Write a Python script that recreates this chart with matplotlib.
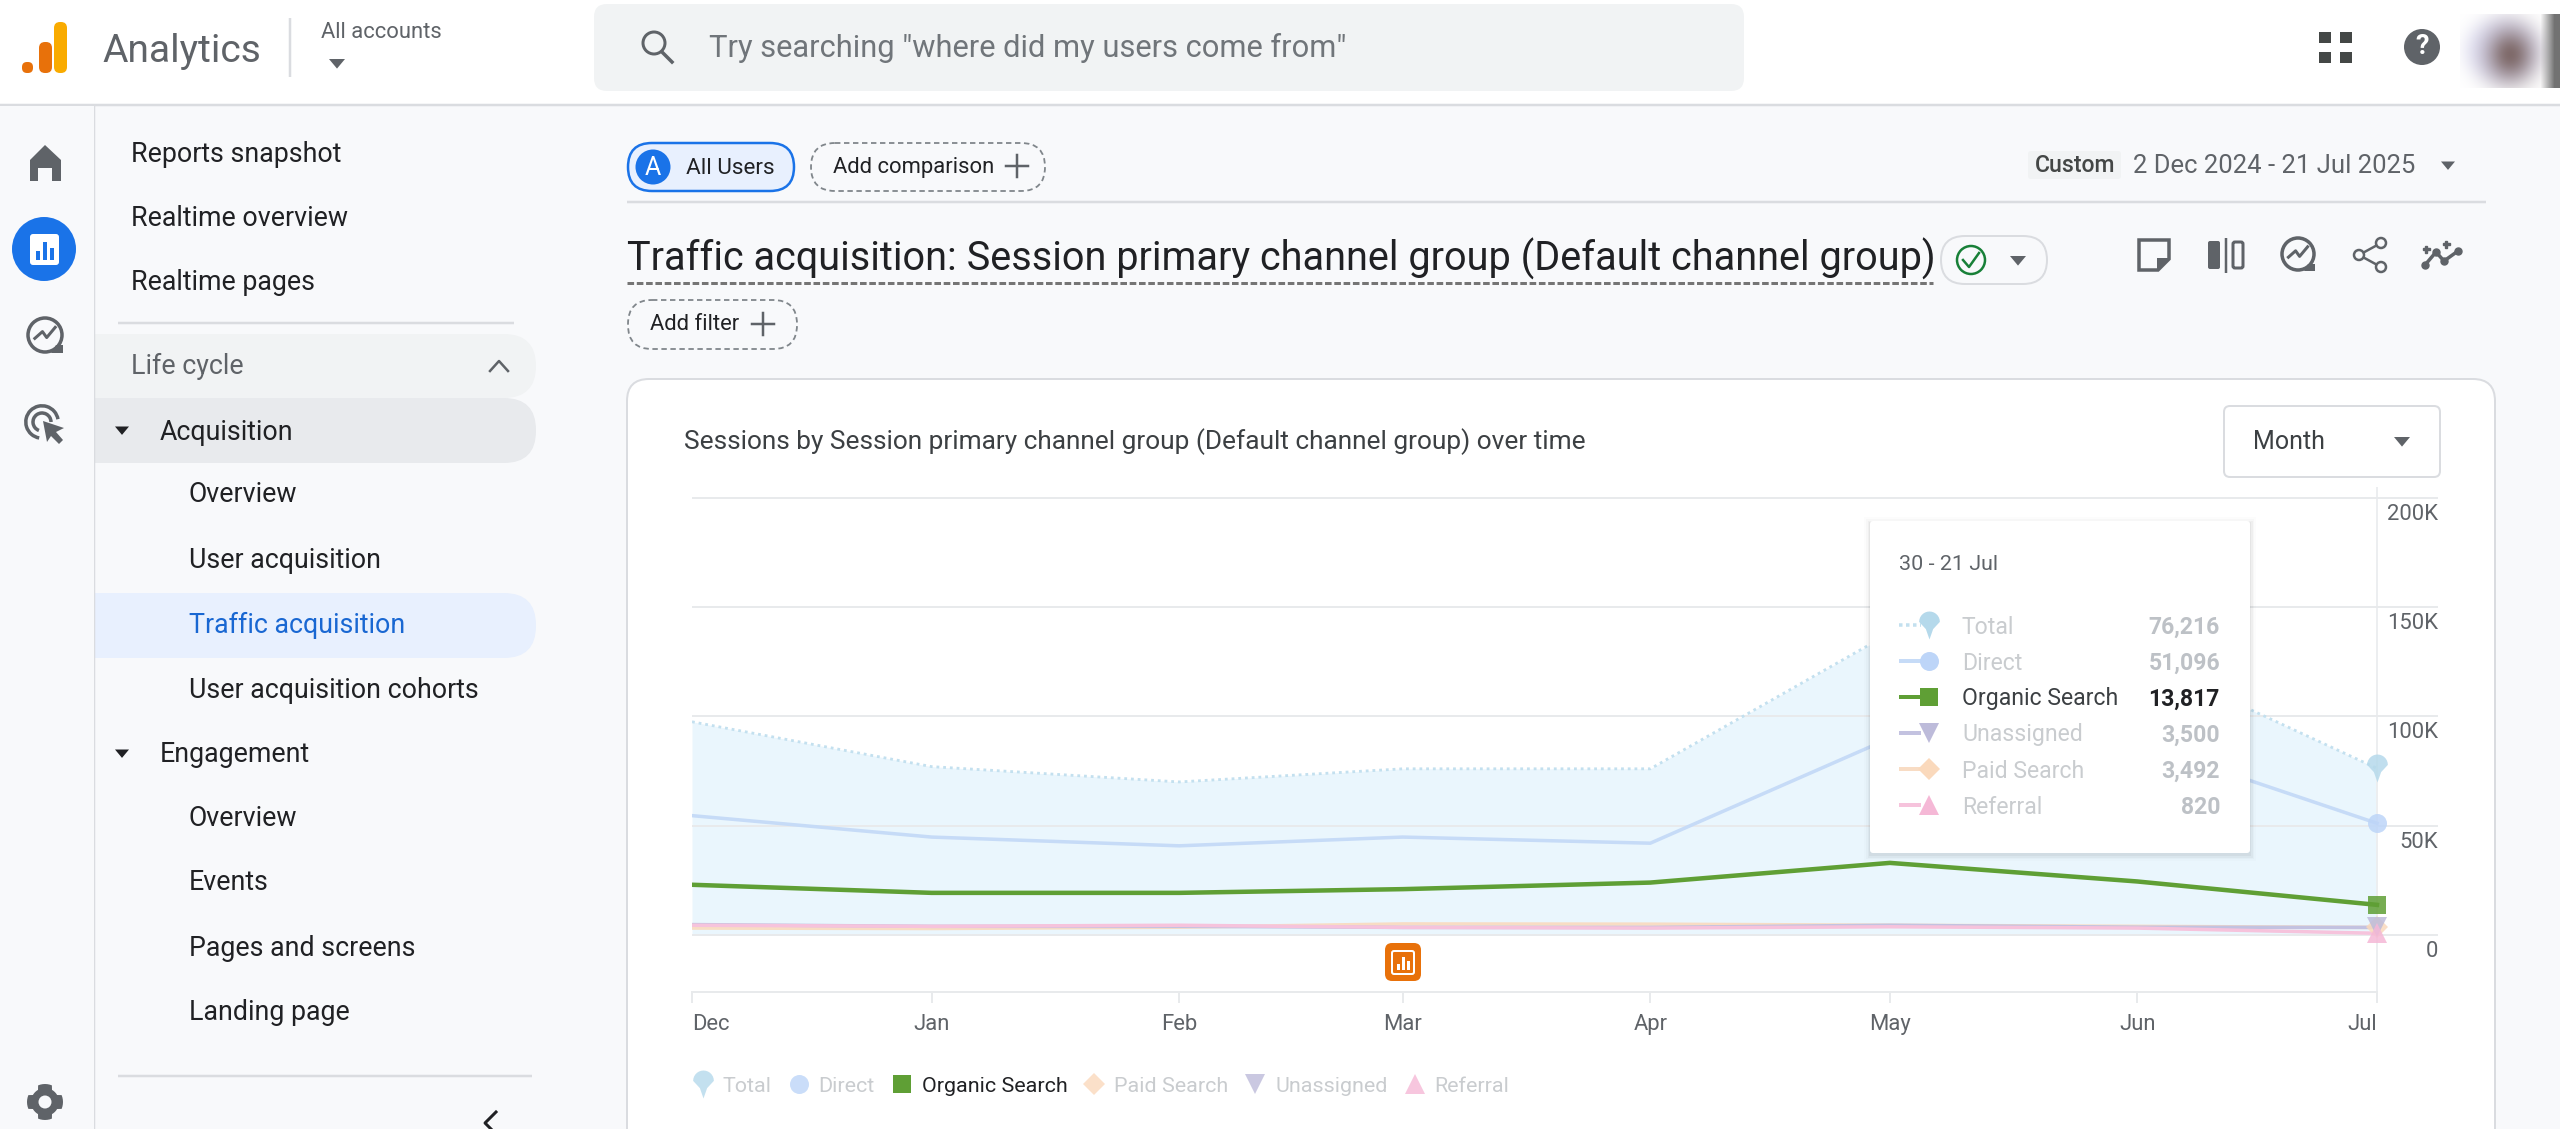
"""
plot.py

Google Analytics traffic acquisition screen: chart plus the page around it.
"""

import numpy as np
import matplotlib
matplotlib.use("Agg")
import matplotlib.pyplot as plt
import matplotlib.dates as mdates
from matplotlib.lines import Line2D
from matplotlib.path import Path
from matplotlib.patches import Arc, Circle, FancyBboxPatch, Polygon, Rectangle
from matplotlib.transforms import ScaledTranslation

plt.rcParams["font.family"] = "Roboto"

# -------- DATA --------
dates = np.array(["2024-12-02", "2025-01-01", "2025-02-01", "2025-03-01",
                  "2025-04-01", "2025-05-01", "2025-06-01", "2025-07-01"],
                 dtype="datetime64[D]")
month_labels = ["Dec", "Jan", "Feb", "Mar", "Apr", "May", "Jun", "Jul"]

total = [97500, 77000, 70000, 76000, 76000, 138000, 127000, 76216]
direct = [54600, 44800, 40800, 44800, 42000, 90000, 88000, 51096]
organic = [23000, 19300, 19300, 21000, 24000, 33000, 24500, 13817]
paid_search = [3200, 3000, 3600, 5100, 5000, 4500, 4000, 3492]
unassigned = [4800, 4000, 4000, 3500, 3500, 4500, 3600, 3500]
referral = [4500, 4000, 4500, 3500, 3200, 3800, 3200, 820]

y_ticks = [0, 50000, 100000, 150000, 200000]
y_labels = ["0", "50K", "100K", "150K", "200K"]

sidebar_top = ["Reports snapshot", "Realtime overview", "Realtime pages"]
acquisition_items = ["Overview", "User acquisition", "Traffic acquisition",
                     "User acquisition cohorts"]
engagement_items = ["Overview", "Events", "Pages and screens", "Landing page"]

# -------- STYLE --------
W, H = 2560, 1129
DPI = 100
PX = 72 / DPI

PAGE = "#F8F9FB"
RULE = "#DADCE0"
INK = "#202124"
GREY = "#5F6368"
FADED = "#C9CCCF"
BLUE = "#1A73E8"

# mushroom shaped marker of the Total series
cap = np.linspace(0, np.pi, 15)
pin = Path(np.vstack([np.c_[np.cos(cap), 0.35 + np.sin(cap)],
                      [(-0.35, -0.35), (0, -1.35), (0.35, -0.35), (1, 0.35)]]), closed=True)

# name, values, line colour, marker, marker colour, marker size in px
series = {
    "Total": (total, "#C3E0EF", pin, "#B5D9EB", 28),
    "Direct": (direct, "#C6DBF7", "o", "#BDD5F8", 19),
    "Organic Search": (organic, "#5F9F35", "s", "#5F9F35", 18),
    "Paid Search": (paid_search, "#F8DCC4", "D", "#FAD9BC", 15),
    "Unassigned": (unassigned, "#C3C2E0", "v", "#BDBBDA", 20),
    "Referral": (referral, "#F6C3DC", "^", "#F5B8D6", 20),
}
tooltip_order = ["Total", "Direct", "Organic Search", "Unassigned", "Paid Search", "Referral"]

fig = plt.figure(figsize=(W / DPI, H / DPI), dpi=DPI, facecolor=PAGE)


def pixel_axes(zorder):
    axes = fig.add_axes([0, 0, 1, 1], zorder=zorder)
    axes.set_xlim(0, W)
    axes.set_ylim(H, 0)
    axes.axis("off")
    return axes


page = pixel_axes(0)


# -------- HELPERS --------
def write(ax, x, y, text, size, color=INK, ha="left", weight="normal", **kwargs):
    return ax.text(x, y + 2, text, fontsize=size * PX, color=color, ha=ha, va="center",
                   fontweight=weight, **kwargs)


def box(ax, x0, y0, x1, y1, radius, fill="none", edge="none", lw=0, ls="-", zorder=2):
    patch = FancyBboxPatch((x0, y0), x1 - x0, y1 - y0,
                           boxstyle=f"round,pad=0,rounding_size={radius}",
                           facecolor=fill, edgecolor=edge, linewidth=lw * PX,
                           linestyle=ls, zorder=zorder)
    ax.add_patch(patch)
    return patch


def rule(x0, y0, x1, y1, color=RULE, lw=2.5):
    page.plot([x0, x1], [y0, y1], color=color, lw=lw * PX, solid_capstyle="butt")


def caret(x, y, size=8, color=GREY):
    page.add_patch(Polygon([(x - size, y - size / 2), (x + size, y - size / 2), (x, y + size * 0.7)],
                           facecolor=color, edgecolor="none", zorder=4))


def plus(x, y, size=11, color=GREY):
    page.plot([x - size, x + size], [y, y], color=color, lw=2.5 * PX)
    page.plot([x, x], [y - size, y + size], color=color, lw=2.5 * PX)


def explore_icon(cx, cy, r=17):
    page.add_patch(Circle((cx, cy), r, facecolor="none", edgecolor=GREY, lw=3.5 * PX, zorder=4))
    page.plot([cx - r * 0.6, cx - r * 0.15, cx + r * 0.1, cx + r * 0.6],
              [cy + r * 0.2, cy - r * 0.2, cy + r * 0.15, cy - r * 0.45],
              color=GREY, lw=3 * PX, zorder=4)
    page.add_patch(Polygon([(cx + r * 0.65, cy + r * 0.6), (cx + r * 1.05, cy + r * 0.6),
                            (cx + r * 1.05, cy + r * 1.05), (cx + r * 0.35, cy + r * 1.05)],
                           facecolor=GREY, edgecolor="none", zorder=4))


# -------- HEADER --------
def draw_header():
    page.add_patch(Rectangle((0, 0), W, 105, facecolor="white", edgecolor="none", zorder=1))
    rule(0, 105, W, 105)
    box(page, 22, 62, 33, 73, 5, fill="#E8710A")
    box(page, 39, 42, 52, 73, 6, fill="#E8710A")
    box(page, 54, 22, 67, 73, 6, fill="#F9AB00")
    write(page, 102, 50, "Analytics", 39, GREY)
    rule(290, 18, 290, 77)
    write(page, 321, 30, "All accounts", 22, GREY)
    caret(337, 63)
    box(page, 594, 4, 1744, 91, 13, fill="#F1F3F4")
    page.add_patch(Circle((654, 43), 11, facecolor="none", edgecolor=GREY, lw=3 * PX, zorder=4))
    page.plot([662, 672], [52, 62], color=GREY, lw=3.5 * PX, zorder=4)
    write(page, 709, 46, 'Try searching "where did my users come from"', 30.9, "#70757A")
    for x0 in (2319, 2340):
        for y0 in (32, 52):
            page.add_patch(Rectangle((x0, y0), 12, 11, facecolor="#444746", edgecolor="none", zorder=4))
    page.add_patch(Circle((2422, 47), 18, facecolor=GREY, edgecolor="none", zorder=4))
    write(page, 2422, 45, "?", 27, "white", ha="center", weight="bold", zorder=5)
    # blurred avatar
    xx, yy = np.meshgrid(np.arange(2460, 2560), np.arange(14, 88))
    blur = np.ones(xx.shape + (3,))
    halo = np.exp(-(((xx - 2503) / 38.0) ** 2 + ((yy - 50) / 34.0) ** 2) ** 2)[..., None]
    face = np.exp(-(((xx - 2510) / 24.0) ** 2 + ((yy - 54) / 27.0) ** 2))[..., None]
    stripe = np.clip((xx - 2540) / 14.0, 0, 1)[..., None]
    blur = blur * (1 - halo) + np.array([0.87, 0.87, 0.96]) * halo
    blur = blur * (1 - face) + np.array([0.5, 0.42, 0.42]) * face
    blur = blur * (1 - stripe) + np.array([0.45, 0.45, 0.45]) * stripe
    page.imshow(blur, extent=(2460, 2560, 88, 14), aspect="auto", zorder=3, interpolation="bilinear")
    page.set_xlim(0, W)
    page.set_ylim(H, 0)


# -------- SIDEBAR --------
def draw_sidebar():
    box(page, 40, 334, 536, 398, 32, fill="#F1F3F4")
    box(page, 40, 398, 536, 463, 32, fill="#E8EAED")
    box(page, 40, 593, 536, 658, 32, fill="#E8F0FE")
    page.add_patch(Rectangle((0, 106), 94, H, facecolor=PAGE, edgecolor="none", zorder=3))
    rule(94, 105, 94, H)

    # home
    page.add_patch(Polygon([(45, 145), (61, 160), (61, 181), (52, 181), (52, 168), (38, 168),
                            (38, 181), (30, 181), (30, 160)],
                           facecolor=GREY, edgecolor="none", zorder=4))
    # reports
    page.add_patch(Circle((44, 249), 32, facecolor=BLUE, edgecolor="none", zorder=4))
    box(page, 30, 234, 59, 265, 3, fill="white", zorder=5)
    for x0, h in zip((36, 43, 50), (9, 18, 12)):
        page.add_patch(Rectangle((x0, 260 - h), 3.5, h, facecolor=BLUE, edgecolor="none", zorder=6))
    explore_icon(45, 335)
    # advertising
    for r, t0 in ((27, 60), (15, 70)):
        page.add_patch(Arc((42, 422), r * 1.2, r * 1.2, theta1=t0 + 40, theta2=t0 + 290,
                           color=GREY, lw=3.5 * PX, zorder=4))
    page.add_patch(Polygon([(43, 421), (64, 428), (56, 432), (63, 440), (59, 444), (51, 436), (47, 442)],
                           facecolor=GREY, edgecolor="none", zorder=5))
    # settings
    angles = np.linspace(0, 2 * np.pi, 48, endpoint=False)
    radii = np.where(np.cos(4 * angles) > -0.1, 18, 14)
    page.add_patch(Polygon(np.c_[45 + radii * np.sin(angles), 1102 + radii * np.cos(angles)],
                           facecolor=GREY, edgecolor="none", zorder=4))
    page.add_patch(Circle((45, 1102), 6.5, facecolor=PAGE, edgecolor="none", zorder=5))

    for y, text in zip((152, 216, 281), sidebar_top):
        write(page, 131, y, text, 26.7, zorder=5)
    rule(118, 323, 514, 323)
    write(page, 131, 364, "Life cycle", 26.7, GREY, zorder=5)
    page.plot([490, 499, 508], [371, 361, 371], color=GREY, lw=2.5 * PX, zorder=5)
    write(page, 160, 430, "Acquisition", 26.7, zorder=5)
    caret(122, 430, 7, INK)
    for y, text in zip((493, 558, 623, 688), acquisition_items):
        color = "#1967D2" if text == "Traffic acquisition" else INK
        write(page, 189, y, text, 26.7, color, zorder=5)
    write(page, 160, 752, "Engagement", 26.7, zorder=5)
    caret(122, 753, 7, INK)
    for y, text in zip((817, 881, 946, 1010), engagement_items):
        write(page, 189, y, text, 26.7, zorder=5)
    rule(118, 1076, 532, 1076)
    page.plot([496, 485, 496], [1112, 1123, 1134], color=INK, lw=3 * PX, zorder=5)


# -------- TOOLBAR --------
def draw_toolbar():
    box(page, 628, 143, 794, 191, 24, fill="#E8F0FE", edge=BLUE, lw=2.5)
    page.add_patch(Circle((653, 167), 17.5, facecolor=BLUE, edgecolor="none", zorder=4))
    write(page, 653, 166, "A", 25, "white", ha="center", zorder=5)
    write(page, 686, 166, "All Users", 22.5, zorder=5)
    box(page, 811, 143, 1045, 191, 24, edge="#80868B", lw=1.8, ls=(0, (3, 2)))
    write(page, 833, 165, "Add comparison", 22, zorder=5)
    plus(1017, 166)
    rule(627, 202, 2486, 202)

    box(page, 2028, 151, 2121, 179, 3, fill="#F1F3F4")
    write(page, 2035, 164, "Custom", 23, "#444746", weight="medium", zorder=5)
    write(page, 2133, 164, "2 Dec 2024 - 21 Jul 2025", 25.6, GREY, zorder=5)
    caret(2448, 165, 7)

    write(page, 627, 257, "Traffic acquisition: Session primary channel group (Default channel group)",
          39.6, INK, zorder=5)
    page.plot([627, 1933], [283, 283], color="#757575", lw=3 * PX, ls=(0, (2.2, 0.9)))
    box(page, 1941, 236, 2047, 284, 24, edge=RULE, lw=2)
    page.add_patch(Circle((1971, 260), 14, facecolor="none", edgecolor="#188038", lw=2.5 * PX, zorder=4))
    page.plot([1963, 1969, 1979], [260, 267, 253], color="#188038", lw=2.5 * PX, zorder=4)
    caret(2018, 260, 8)

    # note
    page.add_patch(Polygon([(2139, 240), (2169, 240), (2169, 259), (2158, 270), (2139, 270)],
                           facecolor="none", edgecolor=GREY, lw=3.5 * PX, zorder=4))
    page.add_patch(Polygon([(2169, 258), (2157, 258), (2157, 271)], facecolor=GREY, edgecolor="none", zorder=4))
    # compare
    box(page, 2208, 241, 2220, 269, 2, fill=GREY)
    rule(2226, 238, 2226, 273, GREY, 2.5)
    box(page, 2233, 242, 2243, 268, 2, edge=GREY, lw=3)
    explore_icon(2298, 254, 16)
    # share
    nodes = [(2381, 243), (2359, 255), (2381, 267)]
    page.plot(*zip(*nodes), color=GREY, lw=2.5 * PX, zorder=4)
    for node in nodes:
        page.add_patch(Circle(node, 5, facecolor=PAGE, edgecolor=GREY, lw=2.5 * PX, zorder=5))
    # insights
    page.plot([2425, 2436, 2444, 2458], [265, 252, 261, 251], color=GREY, lw=3.5 * PX, zorder=4,
              marker="o", markersize=7 * PX)
    page.plot([2446, 2426], [244, 249], ls="none", marker="P", markersize=7 * PX, color=GREY, zorder=4)

    box(page, 628, 300, 797, 349, 24, edge="#80868B", lw=1.8, ls=(0, (3, 2)))
    write(page, 650, 322, "Add filter", 22, zorder=5)
    plus(763, 324)


# -------- CARD AND CHART --------
def draw_card():
    box(page, 627, 379, 2495, 1220, 22, fill="white", edge=RULE, lw=2)
    write(page, 684, 440, "Sessions by Session primary channel group (Default channel group) over time",
          26.2, "#3C4043", zorder=5)
    box(page, 2224, 406, 2440, 477, 6, fill="white", edge=RULE, lw=2)
    write(page, 2253, 440, "Month", 25, "#3C4043", zorder=5)
    caret(2402, 441, 8)


def draw_chart():
    x0_px, x1_px, axis_px = 692, 2377, 2438
    top_px, bottom_px = 486.6, 992.4
    ax = fig.add_axes([x0_px / W, 1 - bottom_px / H, (axis_px - x0_px) / W, (bottom_px - top_px) / H],
                      zorder=1)
    ax.patch.set_visible(False)

    start, end = mdates.date2num(dates[0]), mdates.date2num(dates[-1])
    ax.set_xlim(start, start + (end - start) * (axis_px - x0_px) / (x1_px - x0_px))
    ax.set_ylim(-26200, 205000)

    ax.fill_between(dates, 0, total, color="#EAF6FD", lw=0, zorder=1)
    ax.axvline(dates[-1], color="#ECEEF0", lw=2 * PX, zorder=1.5)
    ax.yaxis.tick_right()
    ax.set_yticks(y_ticks, y_labels)
    ax.grid(axis="y", color="#E8EAEC", lw=2 * PX, zorder=2)
    ax.tick_params(axis="y", length=0, pad=0, labelsize=22 * PX, labelcolor=GREY)
    shift = ScaledTranslation(0, -6 / DPI, fig.dpi_scale_trans)
    for lbl in ax.get_yticklabels():
        lbl.set_ha("right")
        lbl.set_va("top")
        lbl.set_transform(lbl.get_transform() + shift)

    ax.set_xticks(dates, month_labels)
    ax.tick_params(axis="x", length=11 * PX, width=2 * PX, color="#E8EAEC", pad=11 * PX,
                   labelsize=22 * PX, labelcolor=GREY)
    xlabels = ax.get_xticklabels()
    xlabels[0].set_ha("left")
    xlabels[-1].set_ha("right")

    for side in ("top", "left", "right"):
        ax.spines[side].set_visible(False)
    ax.spines["bottom"].set_color("#E8EAEC")
    ax.spines["bottom"].set_linewidth(2 * PX)
    ax.spines["bottom"].set_bounds(start, end)

    for name in ("Total", "Paid Search", "Unassigned", "Referral", "Direct", "Organic Search"):
        values, color, marker, marker_color, size = series[name]
        style = dict(color=color, lw=3.5 * PX, zorder=3)
        if name == "Total":
            style.update(lw=2.8 * PX, ls=(0, (1, 1.4)))
        elif name == "Organic Search":
            style.update(lw=4.5 * PX, zorder=4)
        ax.plot(dates, values, **style)
        ax.plot(dates[-1], values[-1], marker=marker, color=marker_color, markersize=size * PX,
                markeredgewidth=0, alpha=0.85, zorder=5, clip_on=False)

    handles = [Line2D([], [], ls="none", marker=s[2], color=s[3], markersize=s[4] * PX,
                      markeredgewidth=0, alpha=0.8 if name != "Organic Search" else 1)
               for name, s in series.items()]
    legend = fig.legend(handles, list(series), loc="center left", ncol=6, frameon=False,
                        bbox_to_anchor=(692 / W, 1 - 1086 / H), fontsize=21.5 * PX,
                        handlelength=1.0, handletextpad=0.42, columnspacing=0.76,
                        borderpad=0, borderaxespad=0)
    for text in legend.get_texts():
        text.set_color(INK if text.get_text() == "Organic Search" else FADED)


def draw_overlay():
    over = pixel_axes(2)
    over.patch.set_visible(False)

    # report marker on the time axis
    box(over, 1385, 943, 1421, 981, 7, fill="#E8710A")
    box(over, 1392, 951, 1414, 974, 2, edge="white", lw=2)
    for x0, h in zip((1397, 1402, 1407), (6, 13, 9)):
        over.add_patch(Rectangle((x0, 970 - h), 2.5, h, facecolor="white", edgecolor="none", zorder=4))

    # tooltip card with a soft shadow
    for grow, alpha in ((6, 0.012), (4, 0.02), (2.5, 0.03), (1, 0.04)):
        over.add_patch(Rectangle((1870 - grow, 521 - grow + 2), 380 + 2 * grow, 332 + 2 * grow,
                                 facecolor="black", alpha=alpha, edgecolor="none", zorder=1))
    box(over, 1870, 521, 2250, 853, 3, fill="white", zorder=2)
    write(over, 1899, 562, "30 - 21 Jul", 21.5, GREY, zorder=3)
    for y, name in zip((625, 661, 697, 733, 769, 805), tooltip_order):
        values, color, marker, marker_color, size = series[name]
        active = name == "Organic Search"
        line_style = dict(lw=4 * PX, color=color, solid_capstyle="butt", zorder=3)
        if name == "Total":
            line_style = dict(lw=3.5 * PX, color=color, ls=(0, (1, 1)), zorder=3)
        over.plot([1899, 1921], [y, y], **line_style)
        over.plot(1929, y, marker=marker, color=marker_color, markersize=size * PX,
                  markeredgewidth=0, zorder=4)
        write(over, 1962, y, name, 23, "#3C4043" if active else FADED, zorder=3)
        write(over, 2220, y, f"{values[-1]:,}", 23, INK if active else "#BDC1C6", ha="right",
              weight="bold", zorder=3)


# -------- MAIN --------
def main():
    draw_header()
    draw_sidebar()
    draw_toolbar()
    draw_card()
    draw_chart()
    draw_overlay()
    fig.savefig("out.png", dpi=DPI, facecolor=PAGE)


if __name__ == "__main__":
    main()
